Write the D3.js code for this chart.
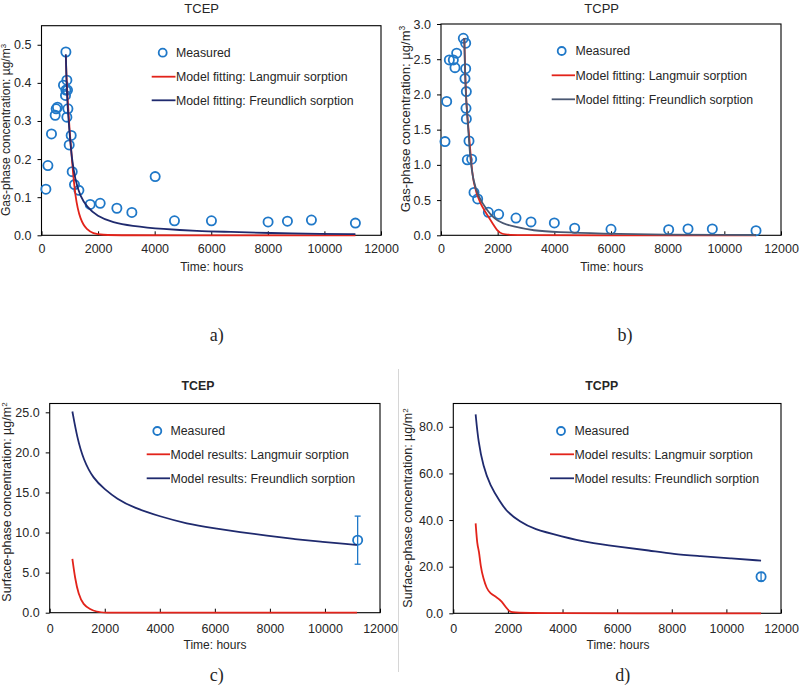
<!DOCTYPE html>
<html><head><meta charset="utf-8">
<script src="https://cdn.jsdelivr.net/npm/d3@7"></script>
<style>
body{margin:0;background:#fff}
svg{display:block}
text{font-family:"Liberation Sans",Arial,sans-serif;fill:#262626}
</style>
</head><body>
<svg id="chart" width="800" height="686"></svg>
<script>
// ---------- DATA ----------
const timeTicks = [0, 2000, 4000, 6000, 8000, 10000, 12000];
const aYTicks = [0, 0.1, 0.2, 0.3, 0.4, 0.5];
const bYTicks = [0, 0.5, 1.0, 1.5, 2.0, 2.5, 3.0];
const cYTicks = [0, 5, 10, 15, 20, 25];
const dYTicks = [0, 20, 40, 60, 80];

const titles = ["TCEP", "TCPP", "TCEP", "TCPP"];
const captions = ["a)", "b)", "c)", "d)"];
const fitLabels = ["Measured", "Model fitting: Langmuir sorption", "Model fitting: Freundlich sorption"];
const resultLabels = ["Measured", "Model results: Langmuir sorption", "Model results: Freundlich sorption"];
const xTitle = "Time: hours";
const gasTitle = "Gas-phase concentration: \u00b5g/m";
const surfTitle = "Surface-phase concentration: \u00b5g/m";

// a) TCEP gas phase
const aMeasT = [155, 226, 353, 484, 519, 565, 777, 848, 862, 862, 897, 919, 933, 897, 979, 1049, 1085, 1166, 1322, 1721, 2074, 2664, 3194, 4018, 4700, 6007, 8009, 8693, 9541, 11095];
const aMeasC = [0.121, 0.183, 0.266, 0.315, 0.332, 0.336, 0.394, 0.367, 0.481, 0.381, 0.407, 0.381, 0.332, 0.310, 0.237, 0.262, 0.167, 0.133, 0.118, 0.081, 0.084, 0.071, 0.060, 0.154, 0.038, 0.038, 0.035, 0.037, 0.040, 0.032];
const aLangT = [860, 880, 920, 990, 1085, 1191, 1368, 1604, 1838, 2074, 3000, 5000, 8000, 11095];
const aLangC = [0.470, 0.420, 0.360, 0.277, 0.190, 0.100, 0.040, 0.014, 0.005, 0.001, 0, 0, 0, 0];
const aFreT = [860, 880, 919, 990, 1074, 1191, 1368, 1604, 1958, 2544, 3134, 4311, 5491, 6668, 8000, 10000, 11095];
const aFreC = [0.475, 0.410, 0.339, 0.269, 0.199, 0.146, 0.102, 0.075, 0.050, 0.033, 0.025, 0.016, 0.011, 0.009, 0.006, 0.0035, 0.003];

// b) TCPP gas phase
const bMeasT = [141, 200, 294, 435, 494, 553, 788, 871, 871, 847, 894, 882, 894, 988, 929, 1082, 1165, 1294, 1671, 2035, 2647, 3176, 4000, 4718, 6000, 8035, 8718, 9576, 11118];
const bMeasC = [1.33, 1.90, 2.49, 2.49, 2.38, 2.585, 2.797, 2.727, 2.365, 2.225, 2.04, 1.803, 1.652, 1.339, 1.072, 1.081, 0.608, 0.516, 0.327, 0.298, 0.245, 0.19, 0.175, 0.10, 0.085, 0.08, 0.09, 0.09, 0.066];
const bLangT = [822, 850, 906, 988, 1047, 1141, 1376, 1671, 1850, 1965, 2141, 2500, 5000, 11118];
const bLangC = [2.80, 2.30, 1.78, 1.45, 1.12, 0.72, 0.45, 0.265, 0.15, 0.076, 0.014, 0, 0, 0];
const bFreT = [822, 850, 880, 964, 1024, 1141, 1318, 1612, 1965, 2553, 3259, 4082, 5612, 7965, 10318, 11118];
const bFreC = [2.80, 2.30, 1.95, 1.50, 1.117, 0.762, 0.549, 0.36, 0.194, 0.123, 0.066, 0.043, 0.024, 0.009, 0.005, 0.004];

// c) TCEP surface phase
const cMeasT = [11188];
const cMeasC = [9.05];
const cMeasErr = [3.0];
const cLangT = [824, 921, 1042, 1224, 1467, 1709, 1952, 3000, 11164];
const cLangC = [6.7, 4.28, 2.33, 0.96, 0.42, 0.12, 0, 0, 0];
const cFreT = [824, 1000, 1224, 1588, 2000, 2436, 3042, 4012, 4982, 5952, 6921, 7891, 8861, 9830, 10861, 11164];
const cFreC = [25.1, 21.8, 19.1, 16.7, 15.4, 14.2, 13.1, 12.0, 11.1, 10.55, 10.05, 9.6, 9.2, 8.86, 8.55, 8.45];

// d) TCPP surface phase
const dMeasT = [11270];
const dMeasC = [15.7];
const dMeasErr = [1.8];
const dLangT = [818, 879, 940, 1001, 1099, 1221, 1343, 1587, 1770, 1954, 2076, 2442, 11270];
const dLangC = [38.6, 28.9, 27.1, 20.0, 15.0, 10.7, 8.6, 6.9, 5.3, 2.1, 0.4, 0, 0];
const dFreT = [818, 916, 1099, 1343, 1709, 1954, 2442, 2930, 4005, 4884, 6044, 7204, 8059, 9036, 10134, 11270];
const dFreC = [85.3, 73.6, 62.9, 55, 47.9, 43.6, 39.3, 36.1, 32.9, 30.4, 28.6, 26.9, 25.4, 24.6, 23.6, 22.6];

// ---------- STYLE / LAYOUT ----------
const BLUE = "#1f78c8", RED = "#e2231a", NAVY = "#1f2a6e", SLATE = "#4a5872";

const panels = [
  {title: titles[0], bold: false, tx: 201.7, ty: 13, L: 41.5, R: 381, T: 25.7, B: 235.3, yMax: 0.55, yTicks: aYTicks,
   mT: aMeasT, mC: aMeasC, err: null, lT: aLangT, lC: aLangC, fT: aFreT, fC: aFreC, fColor: NAVY,
   labels: fitLabels, legMx: 162.7, legMy: 52.7, legLx1: 151.7, legY1: 76.7, legY2: 100.3, legTx: 175.5,
   yTitle: gasTitle, sup: "3", ytX: 10, ytY: 130, ytSize: 12, xpad: 8.5, xtY: 270.5, xtX: 211.7,
   cap: captions[0], capX: 216.7, capY: 340.5},
  {title: titles[1], bold: false, tx: 601.7, ty: 13, L: 441, R: 781, T: 24, B: 235.3, yMax: 3.0, yTicks: bYTicks,
   mT: bMeasT, mC: bMeasC, err: null, lT: bLangT, lC: bLangC, fT: bFreT, fC: bFreC, fColor: SLATE,
   labels: fitLabels, legMx: 561.7, legMy: 51, legLx1: 551.7, legY1: 75.3, legY2: 99.3, legTx: 575,
   yTitle: gasTitle, sup: "3", ytX: 410, ytY: 119, ytSize: 13, xpad: 8.5, xtY: 270.5, xtX: 611.7,
   cap: captions[1], capX: 625, capY: 340.5},
  {title: titles[2], bold: true, tx: 198, ty: 390.3, L: 49.7, R: 380, T: 403.5, B: 612.7, yMax: 26.1, yTicks: cYTicks,
   mT: cMeasT, mC: cMeasC, err: cMeasErr, lT: cLangT, lC: cLangC, fT: cFreT, fC: cFreC, fColor: NAVY,
   labels: resultLabels, legMx: 157.3, legMy: 431, legLx1: 146.7, legY1: 454.3, legY2: 478.3, legTx: 170,
   yTitle: surfTitle, sup: "2", ytX: 11, ytY: 502, ytSize: 12.5, xpad: 11, xtY: 649, xtX: 215,
   cap: captions[2], capX: 216.7, capY: 681},
  {title: titles[3], bold: true, tx: 601.7, ty: 390.3, L: 453.3, R: 781, T: 403.5, B: 613.3, yMax: 90, yTicks: dYTicks,
   mT: dMeasT, mC: dMeasC, err: dMeasErr, lT: dLangT, lC: dLangC, fT: dFreT, fC: dFreC, fColor: NAVY,
   labels: resultLabels, legMx: 561, legMy: 431, legLx1: 550, legY1: 454.3, legY2: 478.3, legTx: 574,
   yTitle: surfTitle, sup: "2", ytX: 412, ytY: 508, ytSize: 12.5, xpad: 11, xtY: 649, xtX: 618,
   cap: captions[3], capX: 622.7, capY: 681}
];

const svg = d3.select("#chart");

// separator line between lower panels
svg.append("line").attr("x1", 398.5).attr("x2", 398.5).attr("y1", 369).attr("y2", 672)
  .attr("stroke", "#d6d6d6").attr("stroke-width", 1);

panels.forEach(p => {
  const g = svg.append("g");
  const x = d3.scaleLinear().domain([0, 12000]).range([p.L, p.R]);
  const y = d3.scaleLinear().domain([0, p.yMax]).range([p.B, p.T]);

  // axes
  const xa = g.append("g").attr("transform", `translate(0,${p.B})`)
    .call(d3.axisBottom(x).tickValues(timeTicks).tickSizeInner(-4).tickSizeOuter(0)
      .tickPadding(p.xpad).tickFormat(d3.format("d")));
  const ya = g.append("g").attr("transform", `translate(${p.L},0)`)
    .call(d3.axisLeft(y).tickValues(p.yTicks).tickSizeInner(4).tickSizeOuter(0)
      .tickPadding(6).tickFormat(d3.format(".1f")));
  [xa, ya].forEach(a => {
    a.select(".domain").remove();
    a.selectAll("line").attr("stroke", "#000");
    a.selectAll("text").attr("font-size", 12.5).attr("font-family", "Liberation Sans, Arial, sans-serif").attr("fill", "#262626");
  });

  // frame
  g.append("rect").attr("x", p.L).attr("y", p.T).attr("width", p.R - p.L).attr("height", p.B - p.T)
    .attr("fill", "none").attr("stroke", "#000").attr("stroke-width", 1.1);

  // measured
  const meas = p.mT.map((t, i) => ({t, c: p.mC[i], e: p.err ? p.err[i] : null}));
  if (p.err) {
    meas.forEach(d => {
      g.append("line").attr("x1", x(d.t)).attr("x2", x(d.t)).attr("y1", y(d.c - d.e)).attr("y2", y(d.c + d.e))
        .attr("stroke", BLUE).attr("stroke-width", 1.3);
      [d.c - d.e, d.c + d.e].forEach(v => g.append("line").attr("x1", x(d.t) - 3).attr("x2", x(d.t) + 3)
        .attr("y1", y(v)).attr("y2", y(v)).attr("stroke", BLUE).attr("stroke-width", 1.3));
    });
  }
  g.selectAll("circle.m").data(meas).enter().append("circle").attr("class", "m")
    .attr("cx", d => x(d.t)).attr("cy", d => y(d.c)).attr("r", 4.6)
    .attr("fill", "none").attr("stroke", BLUE).attr("stroke-width", 1.8);

  // model lines
  const line = d3.line().x(d => x(d[0])).y(d => y(d[1])).curve(d3.curveBasis);
  g.append("path").datum(p.lT.map((t, i) => [t, p.lC[i]])).attr("d", line)
    .attr("fill", "none").attr("stroke", RED).attr("stroke-width", 1.8);
  g.append("path").datum(p.fT.map((t, i) => [t, p.fC[i]])).attr("d", line)
    .attr("fill", "none").attr("stroke", p.fColor).attr("stroke-width", 1.8);

  // legend
  g.append("circle").attr("cx", p.legMx).attr("cy", p.legMy).attr("r", 4).attr("fill", "none")
    .attr("stroke", BLUE).attr("stroke-width", 1.8);
  g.append("line").attr("x1", p.legLx1).attr("x2", p.legTx).attr("y1", p.legY1).attr("y2", p.legY1)
    .attr("stroke", RED).attr("stroke-width", 1.8);
  g.append("line").attr("x1", p.legLx1).attr("x2", p.legTx).attr("y1", p.legY2).attr("y2", p.legY2)
    .attr("stroke", p.fColor).attr("stroke-width", 1.8);
  [p.legMy, p.legY1, p.legY2].forEach((yy, i) => {
    g.append("text").attr("x", p.legTx + 0.5).attr("y", yy).attr("dy", "0.35em")
      .attr("font-size", 12.3).text(p.labels[i]);
  });

  // titles
  g.append("text").attr("x", p.tx).attr("y", p.ty).attr("text-anchor", "middle")
    .attr("font-size", p.bold ? 12.3 : 13).attr("font-weight", p.bold ? "bold" : "normal").text(p.title);
  g.append("text").attr("x", p.xtX).attr("y", p.xtY).attr("text-anchor", "middle")
    .attr("font-size", 12).text(xTitle);
  const yt = g.append("text").attr("transform", `translate(${p.ytX},${p.ytY}) rotate(-90)`)
    .attr("text-anchor", "middle").attr("font-size", p.ytSize);
  yt.append("tspan").text(p.yTitle);
  yt.append("tspan").attr("baseline-shift", "super").attr("font-size", p.ytSize * 0.65).text(p.sup);

  // caption
  svg.append("text").attr("x", p.capX).attr("y", p.capY).attr("text-anchor", "middle")
    .style("font-family", "'Liberation Serif','Times New Roman',serif").attr("font-size", 18)
    .attr("fill", "#000").text(p.cap);
});
</script>
</body></html>
